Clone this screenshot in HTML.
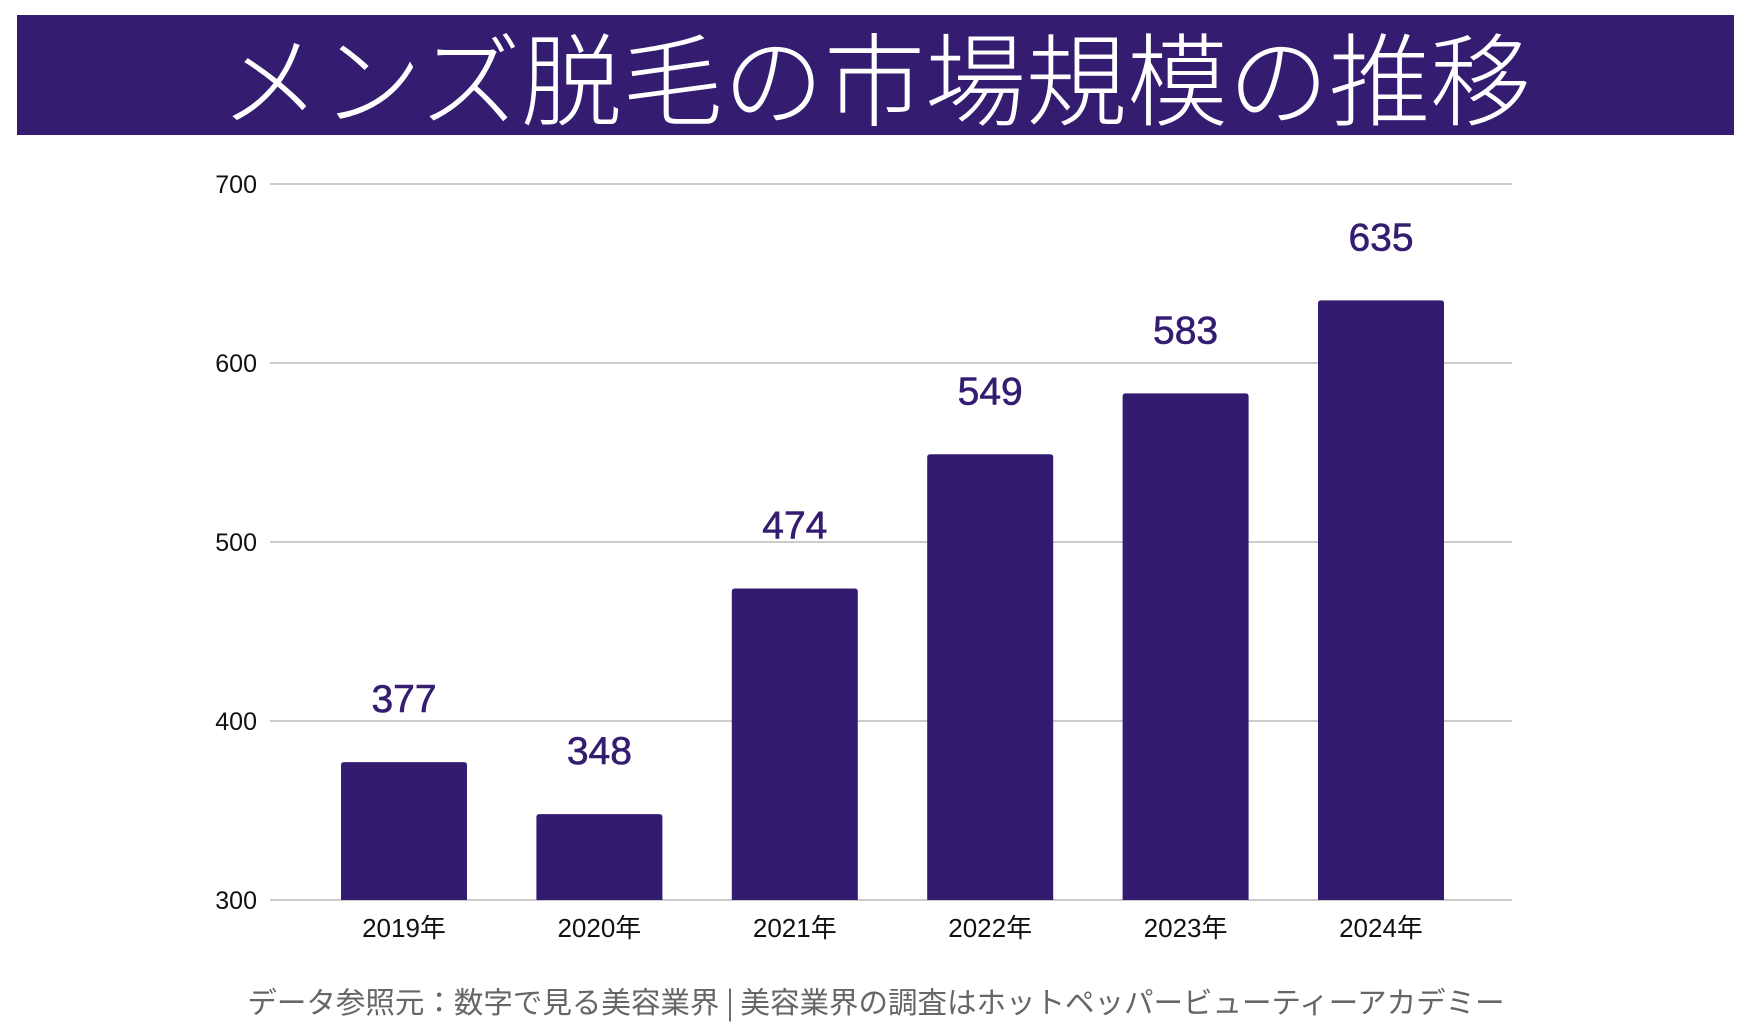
<!DOCTYPE html>
<html><head><meta charset="utf-8"><style>
body{margin:0;width:1752px;height:1034px;background:#fff;overflow:hidden;font-family:"Liberation Sans","Noto Sans CJK JP",sans-serif;}
#banner{position:absolute;left:17px;top:15px;width:1717px;height:120px;background:#341c70;color:#fff;font-size:101px;font-weight:300;text-align:center;line-height:120px;font-family:"Noto Sans CJK JP",sans-serif;}
#foot{position:absolute;left:0;width:1752px;top:980px;text-align:center;font-size:29.5px;color:#666;font-family:"Noto Sans CJK JP",sans-serif;}
</style></head><body>
<div id="banner">メンズ脱毛の市場規模の推移</div>
<svg id="chart" width="1752" height="1034" style="position:absolute;left:0;top:0"></svg>
<div id="foot">データ参照元：数字で見る美容業界 | 美容業界の調査はホットペッパービューティーアカデミー</div>
<script>
const categories=["2019年","2020年","2021年","2022年","2023年","2024年"];
const values=[377,348,474,549,583,635];
const yTicks=[300,400,500,600,700];
const svg=document.getElementById('chart');
const NS='http://www.w3.org/2000/svg';
const y=v=>900-(v-300)*179/100;
const x=i=>404+i*195.4;
function mk(t,a){const e=document.createElementNS(NS,t);for(const k in a)e.setAttribute(k,a[k]);svg.appendChild(e);return e;}
yTicks.forEach(t=>{
 const l=mk('line',{x1:270,x2:1512,y1:y(t),y2:y(t),stroke:'#ccc','stroke-width':2});
 
 
 const tx=mk('text',{x:257,y:y(t)+9,'text-anchor':'end','font-size':25,fill:'#111'});
 tx.textContent=t;
 
 
});
values.forEach((v,i)=>{
 const top=y(v),bw=126;
 const b=mk('path',{d:`M${x(i)-bw/2},900 V${top+3} Q${x(i)-bw/2},${top} ${x(i)-bw/2+3},${top} H${x(i)+bw/2-3} Q${x(i)+bw/2},${top} ${x(i)+bw/2},${top+3} V900 Z`,fill:'#331c6f'});
 
 
 const lb=mk('text',{x:x(i),y:top-50,'text-anchor':'middle','font-size':39,fill:'#341c70','stroke':'#341c70','stroke-width':0.6});
 lb.textContent=v;
 
 
 const xl=mk('text',{x:x(i),y:937,'text-anchor':'middle','font-size':26,fill:'#111','font-family':'"Liberation Sans","Noto Sans CJK JP",sans-serif'});
 xl.textContent=categories[i];
 
 
});
</script>
</body></html>
